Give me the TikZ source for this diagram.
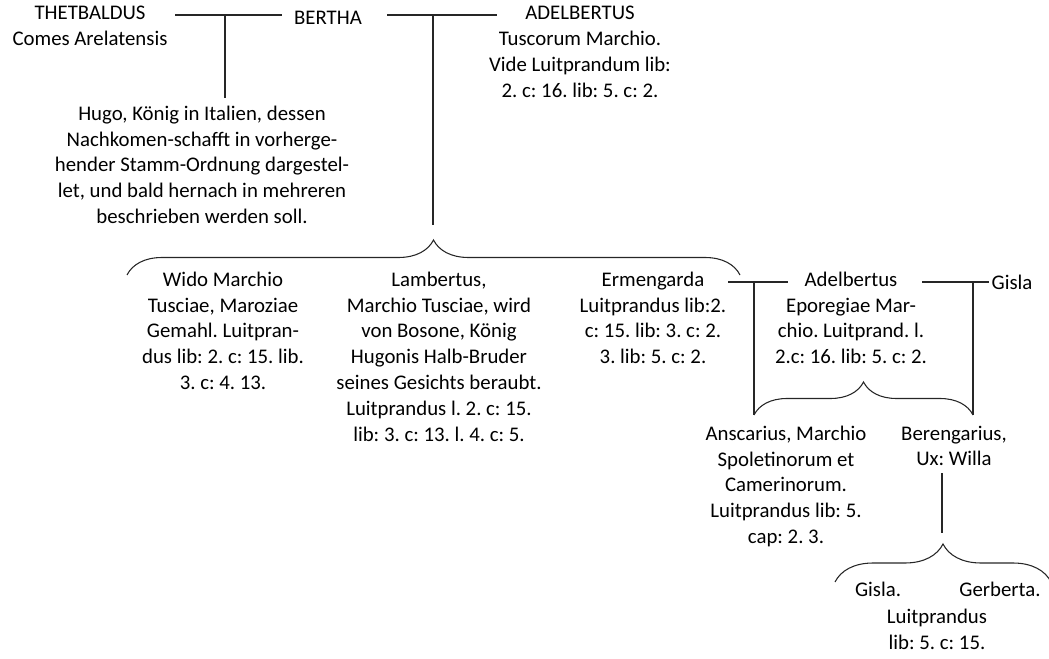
\documentclass[tikz,border=0pt]{standalone}
\usepackage{fontspec}
\setmainfont{Carlito}
\frenchspacing
\usetikzlibrary{decorations.pathreplacing}

\begin{document}
\begin{tikzpicture}[x=0.75pt,y=-0.75pt,
  person/.style={align=center, anchor=north, inner sep=0pt,
    font=\fontsize{15.6}{19.4}\selectfont, execute at begin node=\strut},
  famline/.style={draw=black!85, line width=0.8pt},
  fambrace/.style={famline, decorate, decoration={brace, amplitude=#1}}]
\useasboundingbox (0,0) rectangle (1049,659);
% parents
\node[person] (thetbaldus) at (90,6) {THETBALDUS\\Comes Arelatensis};
\node[person] (bertha) at (328,6) {BERTHA};
\node[person] (adelbertus) at (580,6) {ADELBERTUS\\Tuscorum Marchio.\\Vide Luitprandum lib:\\2. c: 16. lib: 5. c: 2.};
\node[person] (hugo) at (202,105.5) {Hugo, König in Italien, dessen\\Nachkomen-schafft in vorherge-\\hender Stamm-Ordnung dargestel-\\let, und bald hernach in mehreren\\beschrieben werden soll.};
% children
\node[person] (wido) at (223,271.5) {Wido Marchio\\Tusciae, Maroziae\\Gemahl. Luitpran-\\dus lib: 2. c: 15. lib.\\3. c: 4. 13.};
\node[person] (lambertus) at (439,271.5) {Lambertus,\\Marchio Tusciae, wird\\von Bosone, König\\Hugonis Halb-Bruder\\seines Gesichts beraubt.\\Luitprandus l. 2. c: 15.\\lib: 3. c: 13. l. 4. c: 5.};
\node[person] (ermengarda) at (653,271.5) {Ermengarda\\Luitprandus lib:2.\\c: 15. lib: 3. c: 2.\\3. lib: 5. c: 2.};
\node[person] (adelbertus2) at (851,271.5) {Adelbertus\\Eporegiae Mar-\\chio. Luitprand. l.\\2.c: 16. lib: 5. c: 2.};
\node[person] (gisla) at (1012,271.5) {Gisla};
% grandchildren
\node[person] (anscarius) at (786,425.5) {Anscarius, Marchio\\Spoletinorum et\\Camerinorum.\\Luitprandus lib: 5.\\cap: 2. 3.};
\node[person] (berengarius) at (954,425.5) {Berengarius,\\Ux: Willa};
\node[person] (gisla2) at (878,578.5) {Gisla.};
\node[person] (gerberta) at (1000,578.5) {Gerberta.};
\node[person] (luitprandus) at (937,608.5) {Luitprandus\\lib: 5. c: 15.};
% marriage lines
\coordinate (tb-l) at (175,15);
\coordinate (tb-r) at (282,15);
\coordinate (tb-m) at (225,15);
\coordinate (tb-d) at (225,98);
\coordinate (ba-l) at (387,15);
\coordinate (ba-r) at (497,15);
\coordinate (ba-m) at (433,15);
\coordinate (ba-d) at (433,225);
\coordinate (ea-l) at (728,282);
\coordinate (ea-r) at (788,282);
\coordinate (ea-m) at (754,282);
\coordinate (ea-d) at (754,415);
\coordinate (ag-l) at (922,282);
\coordinate (ag-r) at (989,282);
\coordinate (ag-m) at (973,282);
\coordinate (ag-d) at (973,415);
\coordinate (bw-u) at (942,473);
\coordinate (bw-d) at (942,533);
\coordinate (kids-l) at (127,275);
\coordinate (kids-r) at (740,275);
\coordinate (gg-l) at (835,582);
\coordinate (gg-r) at (1051,582);
\draw[famline] (tb-l) -- (tb-r) (tb-m) -- (tb-d);
\draw[famline] (ba-l) -- (ba-r) (ba-m) -- (ba-d);
\draw[famline] (ea-l) -- (ea-r) (ea-m) -- (ea-d);
\draw[famline] (ag-l) -- (ag-r) (ag-m) -- (ag-d);
\draw[famline] (bw-u) -- (bw-d);
% braces
\draw[fambrace=26.25pt] (kids-l) -- (kids-r);
\draw[fambrace=24.75pt] (ea-d) -- (ag-d);
\draw[fambrace=28.5pt] (gg-l) -- (gg-r);
\end{tikzpicture}
\end{document}
